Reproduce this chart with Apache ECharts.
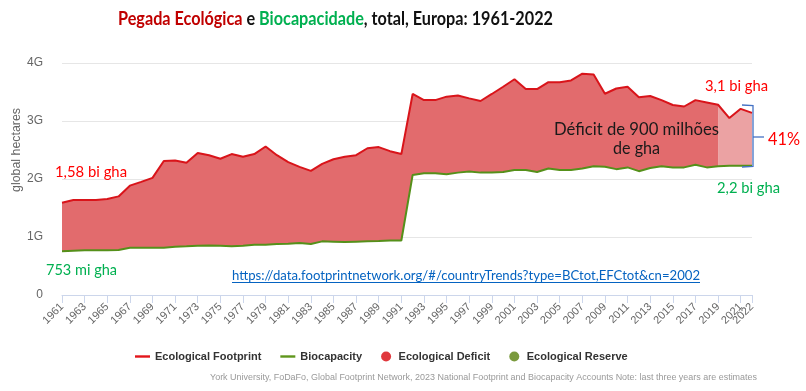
<!DOCTYPE html>
<html><head><meta charset="utf-8">
<script src="https://cdn.jsdelivr.net/npm/echarts@6/dist/echarts.min.js"></script>
<style>html,body{margin:0;padding:0;background:#fff}#c{width:806px;height:391px}</style>
</head><body><div id="c"></div>
<script>
// ---- data (billions of global hectares) ----
const years = ['1961','1962','1963','1964','1965','1966','1967','1968','1969','1970',
  '1971','1972','1973','1974','1975','1976','1977','1978','1979','1980',
  '1981','1982','1983','1984','1985','1986','1987','1988','1989','1990',
  '1991','1992','1993','1994','1995','1996','1997','1998','1999','2000',
  '2001','2002','2003','2004','2005','2006','2007','2008','2009','2010',
  '2011','2012','2013','2014','2015','2016','2017','2018','2019','2020',
  '2021','2022'];
const footprint = [1.59,1.638,1.638,1.64,1.655,1.70,1.885,1.95,2.02,2.31,
  2.32,2.28,2.45,2.41,2.35,2.43,2.385,2.43,2.56,2.41,
  2.29,2.21,2.14,2.26,2.34,2.385,2.41,2.53,2.55,2.48,
  2.43,3.466,3.36,3.36,3.42,3.44,3.39,3.345,3.466,3.59,
  3.72,3.55,3.55,3.67,3.67,3.70,3.815,3.80,3.47,3.56,
  3.59,3.41,3.43,3.36,3.276,3.25,3.36,3.32,3.28,3.05,
  3.21,3.14];
const biocapacity = [0.753,0.765,0.77,0.77,0.77,0.775,0.815,0.815,0.815,0.815,
  0.833,0.84,0.85,0.855,0.85,0.84,0.85,0.868,0.868,0.88,
  0.885,0.895,0.88,0.925,0.92,0.915,0.92,0.925,0.93,0.94,
  0.94,2.07,2.10,2.10,2.08,2.11,2.13,2.11,2.11,2.12,
  2.155,2.155,2.12,2.18,2.155,2.155,2.18,2.22,2.21,2.17,
  2.2,2.135,2.19,2.22,2.20,2.2,2.245,2.2,2.22,2.23,
  2.23,2.23];
const yTicks = ['0','1G','2G','3G','4G'];
const estimateFrom = '2019';

// ---- derived ----
const estIdx = years.indexOf(estimateFrom);
const deficit = footprint.map((v, i) => +(v - biocapacity[i]).toFixed(4));
const keep = (arr, test) => arr.map((v, i) => test(i) ? v : '-');
const isMeasured = i => i <= estIdx;
const isEstimate = i => i >= estIdx;
const lastIdx = years.length - 1;
const everyOther = (i) => i % 2 === 0;
const onlyLast = (i) => i === lastIdx;

// ---- text fitting helper ----
const cv = document.createElement('canvas').getContext('2d');
function fitScale(text, font, width) { cv.font = font; return width / cv.measureText(text).width; }
function label(text, x, y, font, fill, width, align) {
  const s = width ? fitScale(text, font, width) : 1;
  return { type: 'text', x: x, y: y, scaleX: s, silent: true, z: 100,
    style: { text: text, font: font, fill: fill, textAlign: align || 'left', textVerticalAlign: 'middle' } };
}

// title segments
const titleFont = 'bold 19px Lato';
const titleParts = [['Pegada Ecológica', '#C00000'], [' e ', '#111'], ['Biocapacidade', '#00B050'], [', total, Europa: 1961-2022', '#111']];
const titleW = 435, titleX = 118;
cv.font = titleFont;
const titleFull = titleParts.map(p => p[0]).join('');
const tScale = titleW / cv.measureText(titleFull).width;
const titleEls = [];
let acc = 0;
titleParts.forEach(p => {
  cv.font = titleFont;
  titleEls.push({ type: 'text', x: titleX + acc * tScale, y: 19, scaleX: tScale, silent: true, z: 100,
    style: { text: p[0], font: titleFont, fill: p[1], textAlign: 'left', textVerticalAlign: 'middle' } });
  acc += cv.measureText(p[0]).width;
});

const annFont = '15px Lato';
const graphics = titleEls.concat([
  Object.assign(label('global hectares', 0, 0, '12px "Liberation Sans"', '#666', 84, 'center'), { x: 17, y: 150, rotation: Math.PI / 2 }),
  label('1,58 bi gha', 55, 172, annFont, '#FF0000', 72),
  label('753 mi gha', 46, 270, annFont, '#00B050', 71),
  label('3,1 bi gha', 705, 86, annFont, '#FF0000', 63),
  label('2,2 bi gha', 717, 188, annFont, '#00B050', 63),
  label('41%', 768, 139, '18px Lato', '#FF0000', 32),
  label('Déficit de 900 milhões', 636.5, 130, '17px Lato', '#1a1a1a', 165, 'center'),
  label('de gha', 636.5, 149, '17px Lato', '#1a1a1a', 47, 'center'),
  label('https://data.footprintnetwork.org/#/countryTrends?type=BCtot,EFCtot&cn=2002', 232, 275, '14px Lato', '#0563C1', 468),
  { type: 'line', silent: true, z: 100, shape: { x1: 232, y1: 282.5, x2: 700, y2: 282.5 }, style: { stroke: '#0563C1', lineWidth: 1 } },
  { type: 'polyline', silent: true, z: 100, shape: { points: [[742, 105], [753, 105.5], [753, 166.5], [742, 167]] }, style: { stroke: '#4472C4', lineWidth: 1.3, fill: null } },
  { type: 'line', silent: true, z: 100, shape: { x1: 753, y1: 137, x2: 764, y2: 137 }, style: { stroke: '#4472C4', lineWidth: 1.3 } },
  label('York University, FoDaFo, Global Footprint Network, 2023 National Footprint and Biocapacity Accounts Note: last three years are estimates', 210, 378, '9px "Liberation Sans"', '#999', 547)
]);

const RED = '#d9141a', GREEN = '#55901a';
const xLabelStyle = { rotate: 45, margin: 10, color: '#666', fontSize: 11, fontFamily: 'Liberation Sans', hideOverlap: false };
const chart = echarts.init(document.getElementById('c'), null, { renderer: 'canvas' });
chart.setOption({
  animation: false,
  backgroundColor: '#fff',
  grid: { left: 62, right: 54, top: 63, bottom: 96, containLabel: false },
  xAxis: [{
    type: 'category', data: years, boundaryGap: false, position: 'bottom',
    axisLine: { lineStyle: { color: '#ccd6eb', width: 1 } },
    axisTick: { show: true, interval: (i) => everyOther(i) || onlyLast(i), length: 8, lineStyle: { color: '#ccd6eb' } },
    axisLabel: Object.assign({ interval: everyOther, showMinLabel: true, showMaxLabel: true }, xLabelStyle),
    splitLine: { show: false }
  }, {
    type: 'category', data: years, boundaryGap: false, position: 'bottom', offset: 0,
    axisLine: { show: false }, axisTick: { show: false },
    axisLabel: Object.assign({ interval: onlyLast, showMinLabel: false, showMaxLabel: true }, xLabelStyle),
    splitLine: { show: false }
  }],
  yAxis: {
    type: 'value', min: 0, max: 4, interval: 1,
    axisLine: { show: false }, axisTick: { show: false },
    axisLabel: { margin: 19, color: '#666', fontSize: 12, fontFamily: 'Liberation Sans', formatter: v => yTicks[Math.round(v)] },
    splitLine: { lineStyle: { color: '#e6e6e6', width: 1 } }
  },
  legend: {
    left: 135, top: 351, padding: 0, itemWidth: 15, itemHeight: 10, itemGap: 19,
    selectedMode: false, symbolKeepAspect: true,
    textStyle: { fontFamily: 'Liberation Sans', fontSize: 11, fontWeight: 'bold', color: '#333' },
    data: [
      { name: 'Ecological Footprint', icon: 'path://M0,0H15V2.4H0Z', itemStyle: { color: '#e3151b' } },
      { name: 'Biocapacity', icon: 'path://M0,0H15V2.4H0Z', itemStyle: { color: '#5f961c' } },
      { name: 'Ecological Deficit', icon: 'circle', itemStyle: { color: '#e0383d' } },
      { name: 'Ecological Reserve', icon: 'circle', itemStyle: { color: '#7a9a3d' } }
    ]
  },
  series: [
    { name: 'baseMeasured', type: 'line', stack: 'm', data: keep(biocapacity, isMeasured), symbol: 'none', lineStyle: { opacity: 0, width: 0 }, silent: true, z: 1 },
    { name: 'Ecological Deficit', type: 'line', stack: 'm', data: keep(deficit, isMeasured), symbol: 'none', color: '#e0383d',
      lineStyle: { opacity: 0, width: 0 }, areaStyle: { color: '#e26b6d', opacity: 1 }, silent: true, z: 1 },
    { name: 'baseEstimate', type: 'line', stack: 'e', data: keep(biocapacity, isEstimate), symbol: 'none', lineStyle: { opacity: 0, width: 0 }, silent: true, z: 1 },
    { name: 'Ecological Deficit', type: 'line', stack: 'e', data: keep(deficit, isEstimate), symbol: 'none', color: '#e0383d',
      lineStyle: { opacity: 0, width: 0 }, areaStyle: { color: '#eba2a3', opacity: 1 }, silent: true, z: 1 },
    { name: 'Ecological Reserve', type: 'line', data: [], color: '#7a9a3d', symbol: 'none' },
    { name: 'Biocapacity', type: 'line', data: biocapacity, symbol: 'none', color: GREEN, lineStyle: { color: GREEN, width: 2 }, z: 3 },
    { name: 'Ecological Footprint', type: 'line', data: footprint, symbol: 'none', color: RED, lineStyle: { color: RED, width: 2 }, z: 4 }
  ],
  graphic: { elements: graphics }
});
</script></body></html>
